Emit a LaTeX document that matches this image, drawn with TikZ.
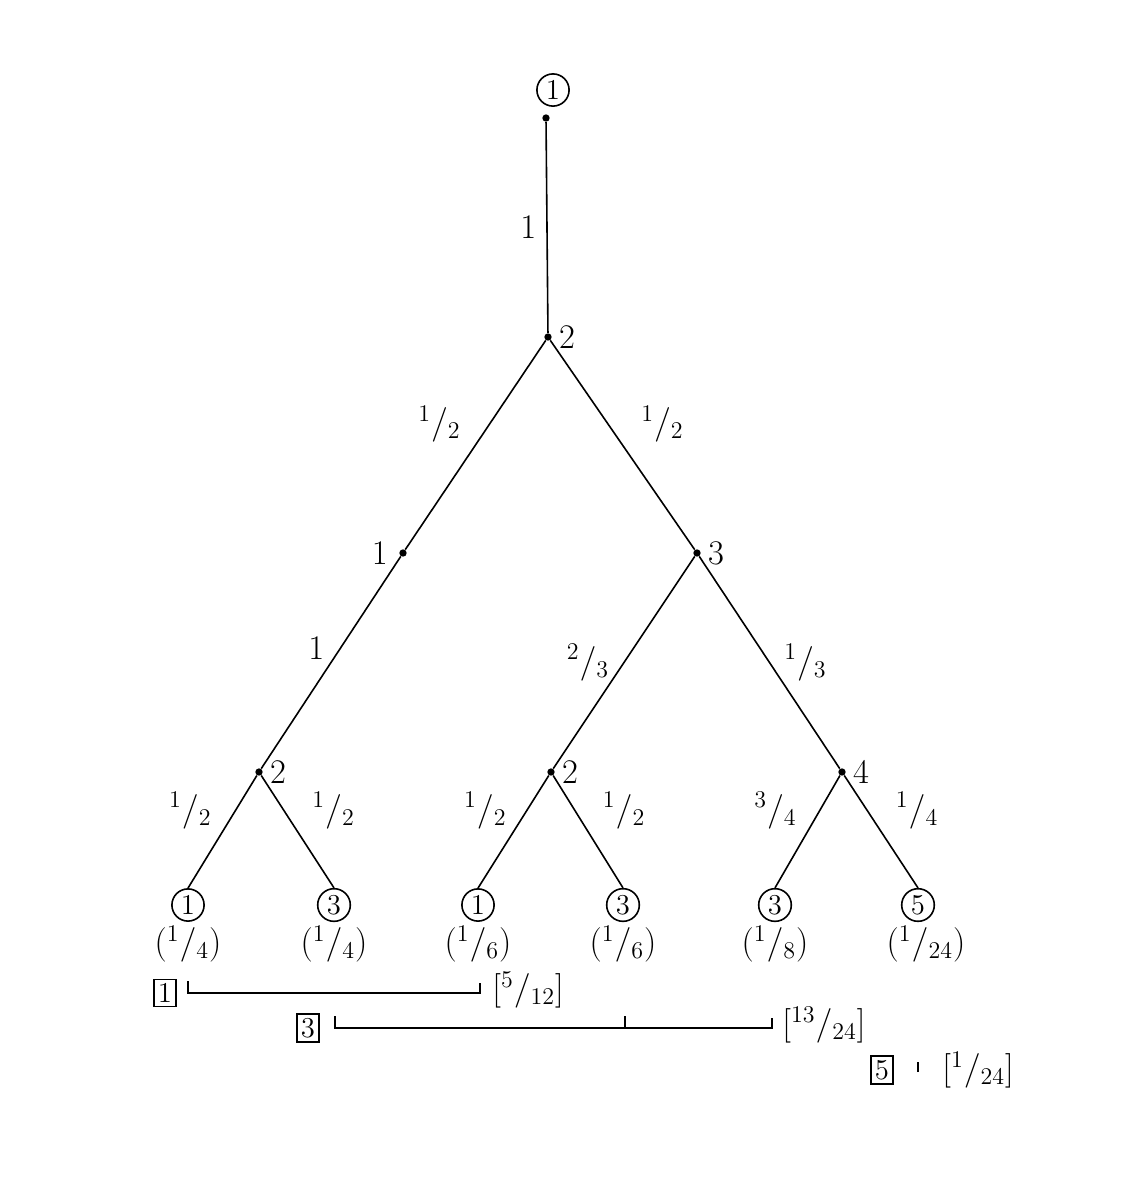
\documentclass[tikz,border=0pt]{standalone}
\newcommand{\frc}[2]{$^{#1}/_{#2}$}

\tikzset{
  pt/.style={circle,fill,inner sep=1.3pt},
  circ/.style={circle,draw,thick,inner sep=1.5pt,font=\Large},
  sq/.style={draw,thick,inner sep=2pt,font=\Large},
  lbl/.style={font=\LARGE},
  wt/.style={font=\LARGE,inner sep=1pt},
  prob/.style={font=\LARGE,inner sep=1pt},
  edge/.style={thick},
}

\begin{document}
\begin{tikzpicture}[x=0.5pt,y=-0.5pt]
  \useasboundingbox (0,0) rectangle (1130,1185);

  % tree nodes
  \node[circ] (top) at (553,90) {1};
  \node[pt] (r) at (546,118) {};
  \node[pt,label={[lbl]right:2}] (a) at (548,337) {};
  \node[pt,label={[lbl,xshift=-2pt]left:1}] (b1) at (403,553) {};
  \node[pt,label={[lbl]right:3}] (b2) at (697,553) {};
  \node[pt,label={[lbl]right:2}] (c1) at (259,772) {};
  \node[pt,label={[lbl]right:2}] (c2) at (551,772) {};
  \node[pt,label={[lbl]right:4}] (c3) at (842,772) {};

  % leaves
  \node[circ] (l1) at (188,905) {1};
  \node[circ] (l2) at (334,905) {3};
  \node[circ] (l3) at (478,905) {1};
  \node[circ] (l4) at (623,905) {3};
  \node[circ] (l5) at (775,905) {3};
  \node[circ] (l6) at (918,905) {5};
  \node[prob] (p1) at (188,944) {(\frc14)};
  \node[prob] (p2) at (334,944) {(\frc14)};
  \node[prob] (p3) at (478,944) {(\frc16)};
  \node[prob] (p4) at (623,944) {(\frc16)};
  \node[prob] (p5) at (775,944) {(\frc18)};
  \node[prob] (p6) at (926,944) {(\frc1{24})};

  % branches
  \draw[edge] (r) -- node[wt,left,xshift=-4pt] {1} (a);
  \draw[edge] (a) -- node[wt,above left,xshift=-6pt] {\frc12} (b1);
  \draw[edge] (a) -- node[wt,above right,xshift=8pt] {\frc12} (b2);
  \draw[edge] (b1) -- node[wt,above left,xshift=-2pt] {1} (c1);
  \draw[edge] (b2) -- node[wt,left,xshift=-6pt] {\frc23} (c2);
  \draw[edge] (b2) -- node[wt,right,xshift=6pt] {\frc13} (c3);
  \draw[edge] (c1) -- node[wt,above left,xshift=-4pt] {\frc12} (l1.north);
  \draw[edge] (c1) -- node[wt,above right,xshift=6pt] {\frc12} (l2.north);
  \draw[edge] (c2) -- node[wt,above left,xshift=-2pt] {\frc12} (l3.north);
  \draw[edge] (c2) -- node[wt,above right,xshift=6pt] {\frc12} (l4.north);
  \draw[edge] (c3) -- node[wt,above left,xshift=-4pt] {\frc34} (l5.north);
  \draw[edge] (c3) -- node[wt,above right,xshift=6pt] {\frc14} (l6.north);

  % totals
  \node[sq] (s1) at (165,993) {1};
  \coordinate (u1) at (188,993);
  \coordinate (v1) at (480,993);
  \node[wt,anchor=west] (t1) at (490,990) {[\frc5{12}]};
  \draw[edge] ([yshift=6pt]u1) -- (u1) -- (v1) -- ([yshift=5pt]v1);

  \node[sq] (s3) at (308,1028) {3};
  \coordinate (u3) at (335,1028);
  \coordinate (m3) at (625,1028);
  \coordinate (v3) at (772,1028);
  \node[wt,anchor=west] (t3) at (780,1025) {[\frc{13}{24}]};
  \draw[edge] ([yshift=6pt]u3) -- (u3) -- (v3) -- ([yshift=5pt]v3);
  \draw[edge] (m3) -- ([yshift=6pt]m3);

  \node[sq] (s5) at (882,1070) {5};
  \coordinate (u5) at (918,1072);
  \node[wt,anchor=west] (t5) at (940,1070) {[\frc1{24}]};
  \draw[edge] (u5) -- ([yshift=5pt]u5);
\end{tikzpicture}
\end{document}
